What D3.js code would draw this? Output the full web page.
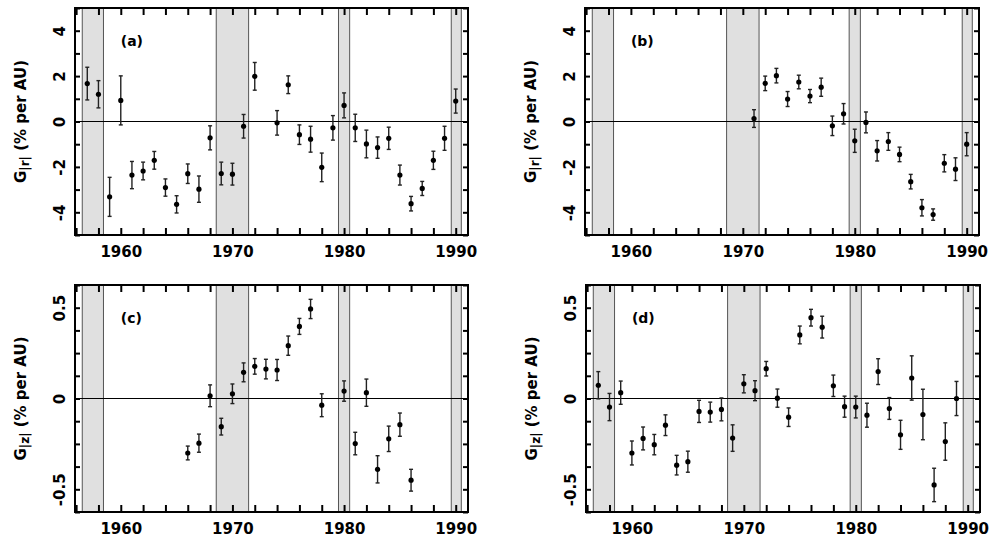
<!DOCTYPE html>
<html>
<head>
<meta charset="utf-8">
<script src="https://cdnjs.cloudflare.com/ajax/libs/d3/7.8.5/d3.min.js"></script>
<style>
  html, body { margin: 0; padding: 0; background: #fff; }
  svg text { font-family: "DejaVu Sans", "Liberation Sans", Arial, sans-serif; font-weight: bold; }
</style>
</head>
<body>
<svg id="chart" width="990" height="540"></svg>
<script>
// ---- Data ----
const bands = [[1956.55, 1958.45], [1968.55, 1971.45], [1979.5, 1980.5], [1989.6, 1990.5]];
const xTickValues = [1956,1958,1960,1962,1964,1966,1968,1970,1972,1974,1976,1978,1980,1982,1984,1986,1988,1990];
const xTickLabels = [1960, 1970, 1980, 1990];

const aYears  = [1957,1958,1959,1960,1961,1962,1963,1964,1965,1966,1967,1968,1969,1970,1971,1972,1974,1975,1976,1977,1978,1979,1980,1981,1982,1983,1984,1985,1986,1987,1988,1989,1990];
const aValues = [1.67,1.2,-3.32,0.93,-2.36,-2.18,-1.71,-2.91,-3.65,-2.3,-2.98,-0.72,-2.29,-2.32,-0.21,1.99,-0.06,1.62,-0.58,-0.78,-2.02,-0.28,0.71,-0.28,-0.99,-1.15,-0.74,-2.36,-3.62,-2.95,-1.71,-0.74,0.9];
const aErrors = [0.72,0.6,0.86,1.08,0.6,0.39,0.39,0.38,0.38,0.43,0.58,0.53,0.5,0.48,0.52,0.61,0.54,0.39,0.43,0.57,0.63,0.54,0.55,0.6,0.61,0.47,0.49,0.44,0.32,0.31,0.4,0.53,0.53];

const bYears  = [1971,1972,1973,1974,1975,1976,1977,1978,1979,1980,1981,1982,1983,1984,1985,1986,1987,1988,1989,1990];
const bValues = [0.13,1.68,2.02,0.99,1.74,1.12,1.51,-0.19,0.34,-0.85,-0.04,-1.29,-0.88,-1.45,-2.65,-3.8,-4.1,-1.84,-2.1,-1.0];
const bErrors = [0.39,0.32,0.32,0.33,0.3,0.29,0.4,0.43,0.45,0.51,0.46,0.45,0.39,0.32,0.32,0.36,0.25,0.38,0.5,0.51];

const cYears  = [1966,1967,1968,1969,1970,1971,1972,1973,1974,1975,1976,1977,1978,1980,1981,1982,1983,1984,1985,1986];
const cValues = [-0.30,-0.246,0.015,-0.155,0.026,0.144,0.177,0.162,0.157,0.291,0.397,0.493,-0.037,0.041,-0.248,0.032,-0.39,-0.222,-0.144,-0.45];
const cErrors = [0.038,0.05,0.06,0.046,0.054,0.052,0.043,0.054,0.058,0.053,0.044,0.053,0.063,0.056,0.062,0.075,0.075,0.07,0.064,0.06];

const dYears  = [1957,1958,1959,1960,1961,1962,1963,1964,1965,1966,1967,1968,1969,1970,1971,1972,1973,1974,1975,1976,1977,1978,1979,1980,1981,1982,1983,1984,1985,1986,1987,1988,1989];
const dValues = [0.073,-0.047,0.032,-0.30,-0.22,-0.254,-0.147,-0.367,-0.348,-0.071,-0.075,-0.06,-0.218,0.081,0.043,0.164,0.002,-0.103,0.35,0.445,0.393,0.07,-0.045,-0.047,-0.092,0.148,-0.055,-0.2,0.113,-0.088,-0.476,-0.237,0.0];
const dErrors = [0.075,0.075,0.064,0.066,0.063,0.056,0.057,0.054,0.058,0.061,0.055,0.063,0.073,0.05,0.055,0.04,0.05,0.051,0.049,0.046,0.06,0.059,0.058,0.06,0.066,0.071,0.06,0.08,0.122,0.139,0.092,0.103,0.094];

const yTicksBig = [-5,-4,-3,-2,-1,0,1,2,3,4,5];
const yLabelsBig = [-4,-2,0,2,4];
const yTicksSmall = [-0.625,-0.5,-0.375,-0.25,-0.125,0,0.125,0.25,0.375,0.5,0.625];
const yLabelsSmall = [-0.5,0,0.5];

const panels = [
  {tag:"(a)", x0:75,  y0:8,   w:393, h:227, years:aYears, vals:aValues, errs:aErrors, ydom:[-5,5], yt:yTicksBig, yl:yLabelsBig, sub:"|r|"},
  {tag:"(b)", x0:585, y0:8,   w:394, h:227, years:bYears, vals:bValues, errs:bErrors, ydom:[-5,5], yt:yTicksBig, yl:yLabelsBig, sub:"|r|"},
  {tag:"(c)", x0:75,  y0:285, w:393, h:227, years:cYears, vals:cValues, errs:cErrors, ydom:[-0.625,0.625], yt:yTicksSmall, yl:yLabelsSmall, sub:"|z|"},
  {tag:"(d)", x0:586, y0:285, w:394, h:227, years:dYears, vals:dValues, errs:dErrors, ydom:[-0.625,0.625], yt:yTicksSmall, yl:yLabelsSmall, sub:"|z|"}
];

const svg = d3.select("#chart");
const fmtY = d => (d === 0 ? "0" : String(d));

panels.forEach(p => {
  const g = svg.append("g").attr("transform", `translate(${p.x0},${p.y0})`);
  const x = d3.scaleLinear().domain([1955.9, 1991.1]).range([0, p.w]);
  const y = d3.scaleLinear().domain(p.ydom).range([p.h, 0]);

  // shaded bands
  g.selectAll("rect.band").data(bands).join("rect")
    .attr("class", "band")
    .attr("x", d => x(d[0])).attr("width", d => x(d[1]) - x(d[0]))
    .attr("y", 0).attr("height", p.h)
    .attr("fill", "#e0e0e0").attr("stroke", "#555").attr("stroke-width", 1);

  // zero line
  g.append("line").attr("x1", 0).attr("x2", p.w)
    .attr("y1", y(0)).attr("y2", y(0))
    .attr("stroke", "#000").attr("stroke-width", 1);

  // error bars
  const pts = p.years.map((yr, i) => ({yr, v: p.vals[i], e: p.errs[i]}));
  const eb = g.append("g").attr("stroke", "#222").attr("stroke-width", 1.4);
  eb.selectAll("line.v").data(pts).join("line").attr("class", "v")
    .attr("x1", d => x(d.yr)).attr("x2", d => x(d.yr))
    .attr("y1", d => y(d.v - d.e)).attr("y2", d => y(d.v + d.e));
  eb.selectAll("line.t").data(pts).join("line").attr("class", "t")
    .attr("x1", d => x(d.yr) - 2).attr("x2", d => x(d.yr) + 2)
    .attr("y1", d => y(d.v + d.e)).attr("y2", d => y(d.v + d.e));
  eb.selectAll("line.b").data(pts).join("line").attr("class", "b")
    .attr("x1", d => x(d.yr) - 2).attr("x2", d => x(d.yr) + 2)
    .attr("y1", d => y(d.v - d.e)).attr("y2", d => y(d.v - d.e));
  g.selectAll("circle.pt").data(pts).join("circle").attr("class", "pt")
    .attr("cx", d => x(d.yr)).attr("cy", d => y(d.v)).attr("r", 2.6).attr("fill", "#000");

  // axes
  const styleAxis = sel => {
    sel.select(".domain").remove();
    sel.selectAll(".tick line").attr("stroke", "#000").attr("stroke-width", 2);
  };
  const bottom = g.append("g").attr("transform", `translate(0,${p.h})`)
    .call(d3.axisBottom(x).tickValues(xTickValues).tickSize(-7).tickPadding(11)
      .tickFormat(d => xTickLabels.includes(d) ? String(d) : ""));
  styleAxis(bottom);
  bottom.selectAll("text").attr("font-size", 15).attr("fill", "#000");
  const top = g.append("g")
    .call(d3.axisTop(x).tickValues(xTickValues).tickSize(-7).tickFormat(""));
  styleAxis(top);

  const left = g.append("g")
    .call(d3.axisLeft(y).tickValues(p.yt).tickSize(-5)
      .tickFormat(d => p.yl.includes(d) ? fmtY(d) : ""));
  styleAxis(left);
  left.selectAll("text")
    .attr("transform", "rotate(-90)")
    .attr("x", 0).attr("y", -15).attr("dy", null)
    .attr("dominant-baseline", "central")
    .attr("text-anchor", "middle")
    .attr("font-size", 15).attr("fill", "#000");
  const right = g.append("g").attr("transform", `translate(${p.w},0)`)
    .call(d3.axisRight(y).tickValues(p.yt).tickSize(-5).tickFormat(""));
  styleAxis(right);

  // frame
  g.append("rect").attr("x", 0).attr("y", 0).attr("width", p.w).attr("height", p.h)
    .attr("fill", "none").attr("stroke", "#000").attr("stroke-width", 2);

  // panel tag
  g.append("text").attr("x", x(1960)).attr("y", 38)
    .attr("font-size", 14).attr("fill", "#000").text(p.tag);

  // y label
  const yl = g.append("text")
    .attr("transform", `translate(-54,${p.h / 2}) rotate(-90)`)
    .attr("text-anchor", "middle").attr("dominant-baseline", "central")
    .attr("font-size", 15).attr("fill", "#000");
  yl.append("tspan").text("G");
  yl.append("tspan").attr("dy", 4).attr("font-size", 12).text(p.sub);
  yl.append("tspan").attr("dy", -4).text(" (% per AU)");
});
</script>
</body>
</html>
